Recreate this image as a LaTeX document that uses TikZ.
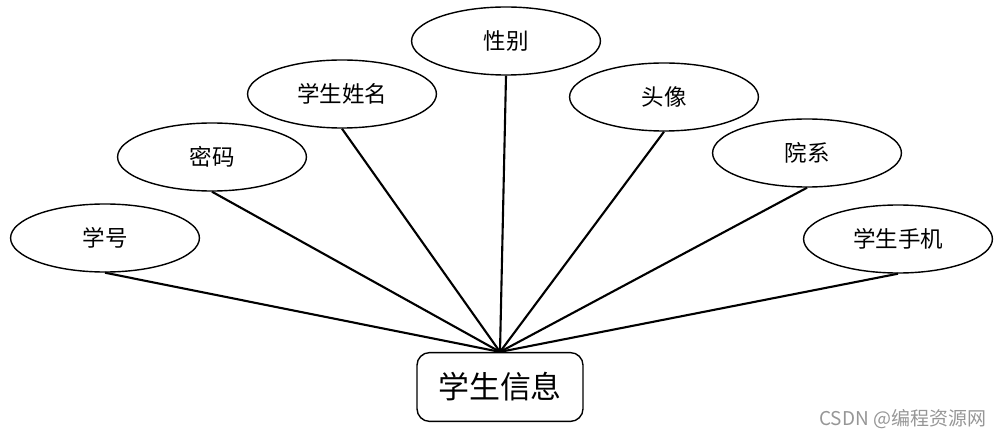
\documentclass[tikz,border=0pt]{standalone}
\usepackage{fontspec}
\setmainfont{Noto Sans CJK SC}
\usetikzlibrary{shapes.geometric}
\definecolor{markgray}{RGB}{150,150,150}

\tikzset{
attr/.style={ellipse, draw, line width=1pt, inner sep=0pt, minimum width=4.72cm, minimum height=1.7cm, font=\fontsize{16}{19}\selectfont},
entity/.style={rectangle, draw, rounded corners=9pt, line width=1pt, minimum width=4.15cm, minimum height=1.72cm, font=\fontsize{22}{26}\selectfont},
link/.style={line width=1.5pt}
}

\begin{document}
\begin{tikzpicture}[x=0.025cm, y=-0.025cm]
\useasboundingbox (0,0) rectangle (1005,439);

\node[entity] (info) at (500,387) {学生信息};

\node[attr] (xuehao) at (105,238) {学号};
\node[attr] (mima) at (212,157) {密码};
\node[attr] (xingming) at (342,94) {学生姓名};
\node[attr] (xingbie) at (506,41) {性别};
\node[attr] (touxiang) at (664,97) {头像};
\node[attr] (yuanxi) at (807,153) {院系};
\node[attr] (shouji) at (898,239) {学生手机};

\foreach \a in {xuehao,mima,xingming,xingbie,touxiang,yuanxi,shouji}
  \draw[link] (\a.south) -- (info.north);

\node[anchor=east, text=markgray, font=\fontsize{13.5}{16}\selectfont] (mark) at (991,419) {CSDN @编程资源网};
\end{tikzpicture}
\end{document}
